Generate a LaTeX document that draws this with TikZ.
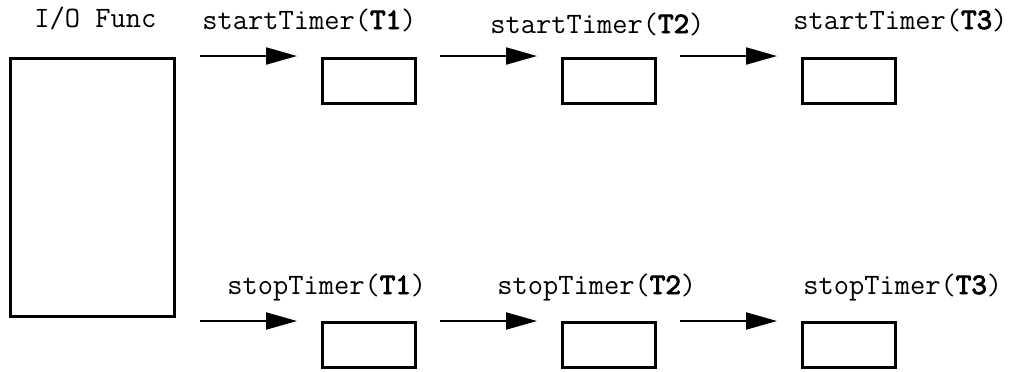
\documentclass[tikz,border=0pt]{standalone}
\usepackage{fontspec}
\usetikzlibrary{arrows.meta}
\newfontfamily\ttbold{lmmono10-regular.otf}[FakeBold=3]
\newcommand\tid[1]{{\ttbold #1}}

\begin{document}
\begin{tikzpicture}[x=0.5pt,y=-0.5pt,
box/.style={draw,line width=1.5pt,inner sep=0pt},
timer/.style={box,minimum width=46.5pt,minimum height=22.5pt},
lbl/.style={anchor=base west,inner sep=0pt,font=\ttfamily\fontsize{14.8}{17}\selectfont},
flow/.style={-{Triangle[length=15.5pt,width=8.5pt]},line width=1pt}]
\useasboundingbox (0,0) rectangle (1016,371);
% I/O function block
\node[box,minimum width=82pt,minimum height=129pt] (io) at (92.5,187.5) {};
\node[lbl] (iol) at (34,27) {I/O Func};
% timer boxes
\node[timer] (st1) at (368.5,81) {};
\node[timer] (st2) at (608.5,81) {};
\node[timer] (st3) at (848.5,81) {};
\node[timer] (sp1) at (368.5,344.5) {};
\node[timer] (sp2) at (608.5,344.5) {};
\node[timer] (sp3) at (848.5,344.5) {};
% labels
\node[lbl] (stl1) at (202,29) {startTimer(\tid{T1})};
\node[lbl] (stl2) at (490,33) {startTimer(\tid{T2})};
\node[lbl] (stl3) at (793,29) {startTimer(\tid{T3})};
\node[lbl] (spl1) at (227,294) {stopTimer(\tid{T1})};
\node[lbl] (spl2) at (497,294) {stopTimer(\tid{T2})};
\node[lbl] (spl3) at (803,294) {stopTimer(\tid{T3})};
% arrow ends
\coordinate (sa1) at (200,56); \coordinate (sb1) at (297,56);
\coordinate (sa2) at (440,56); \coordinate (sb2) at (537,56);
\coordinate (sa3) at (680,56); \coordinate (sb3) at (777,56);
\coordinate (pa1) at (200,321); \coordinate (pb1) at (297,321);
\coordinate (pa2) at (440,321); \coordinate (pb2) at (537,321);
\coordinate (pa3) at (680,321); \coordinate (pb3) at (777,321);
\foreach \i in {1,2,3}{
\draw[flow] (sa\i) -- (sb\i);
\draw[flow] (pa\i) -- (pb\i);
}
\end{tikzpicture}
\end{document}
